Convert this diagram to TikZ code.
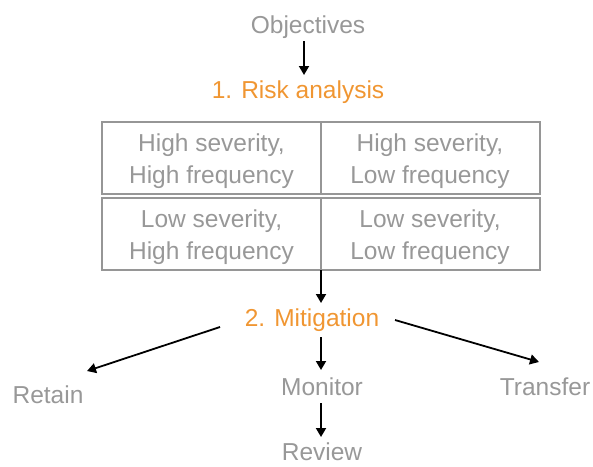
\documentclass[tikz,border=0pt]{standalone}
\usepackage{fontspec}
\setmainfont{Liberation Sans}
\usetikzlibrary{arrows.meta,calc}
\definecolor{txtgray}{RGB}{152,152,152}
\definecolor{boxgray}{RGB}{150,150,150}
\definecolor{orng}{RGB}{240,150,50}
\tikzset{
  lbl/.style={text=txtgray, font=\fontsize{24.5}{32}\selectfont, inner sep=3pt},
  head/.style={text=orng, font=\fontsize{24.5}{32}\selectfont, inner sep=3pt},
  cell/.style={draw=boxgray, line width=2pt, minimum width=219pt, minimum height=72pt, inner sep=0pt},
  celltxt/.style={text=txtgray, font=\fontsize{24.5}{32}\selectfont, align=center, inner sep=0pt},
  arr/.style={draw=black, line width=1.8pt, -{Triangle[length=9pt,width=10pt]}}
}
\begin{document}
\begin{tikzpicture}[x=1pt,y=-1pt]
\useasboundingbox (0,0) rectangle (593,466);
\node[lbl] (obj) at (308,27.5) {Objectives};
\node[head] (risk) at (298,92.5) {1. Risk analysis};
\node[cell] (c1) at (211.5,158) {};
\node[cell] (c2) at (430,158) {};
\node[cell] (c3) at (211.5,234) {};
\node[cell] (c4) at (430,234) {};
\node[celltxt] (t1) at ($(c1.center)+(0,3)$) {High severity,\\High frequency};
\node[celltxt] (t2) at ($(c2.center)+(0,3)$) {High severity,\\Low frequency};
\node[celltxt] (t3) at ($(c3.center)+(0,3)$) {Low severity,\\High frequency};
\node[celltxt] (t4) at ($(c4.center)+(0,3)$) {Low severity,\\Low frequency};
\node[head] (mit) at (312,320.5) {2. Mitigation};
\node[lbl] (ret) at (48,394.5) {Retain};
\node[lbl] (mon) at (322,386.5) {Monitor};
\node[lbl] (tra) at (545,386.5) {Transfer};
\node[lbl, inner sep=0pt] (rev) at (322,452) {Review};

\draw[arr] ($(obj.center)+(-4,13.5)$) -- ($(risk.center)+(6,-17.5)$);
\draw[arr] ($(c3.center)+(109.5,36)$) -- ($(mit.center)+(9,-17.5)$);
\draw[arr] ($(mit.center)+(-92,6.5)$) -- ($(ret.center)+(39,-23.5)$);
\draw[arr] ($(mit.center)+(9,16.5)$) -- ($(mon.center)+(-1,-16.5)$);
\draw[arr] ($(mit.center)+(83,-0.5)$) -- ($(tra.center)+(-6,-24.5)$);
\draw[arr] ($(mon.center)+(-1,16.5)$) -- ($(rev.center)+(-1,-15)$);
\end{tikzpicture}
\end{document}
